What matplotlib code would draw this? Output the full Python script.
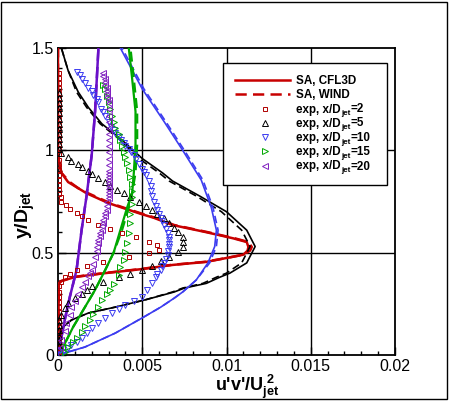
import numpy as np
import matplotlib
matplotlib.use("Agg")
import matplotlib.pyplot as plt
from matplotlib.patches import Rectangle

plt.rcParams['font.family'] = ['Liberation Sans', 'DejaVu Sans']
plt.rcParams['mathtext.fontset'] = 'custom'
plt.rcParams['mathtext.rm'] = 'Liberation Sans:bold'
plt.rcParams['mathtext.it'] = 'Liberation Sans:bold'
plt.rcParams['mathtext.bf'] = 'Liberation Sans:bold'

# ---------------- model curves (x = u'v'/Ujet^2, y = y/Djet) ----------------
red_cfl_y = [0.0, 0.35, 0.361, 0.381, 0.40, 0.42, 0.44, 0.455, 0.474, 0.49, 0.51, 0.528, 0.552, 0.57, 0.60, 0.635, 0.67, 0.69, 0.742, 0.79, 0.815, 0.845, 0.89, 0.95, 1.0, 1.5]
red_cfl_x = [0.0, 0.00005, 0.0002, 0.0010, 0.0028, 0.0050, 0.0068, 0.0088, 0.0100, 0.0110, 0.01125, 0.0113, 0.0112, 0.0104, 0.0088, 0.0068, 0.0057, 0.0049, 0.0030, 0.0017, 0.0012, 0.0006, 0.0002, 0.00005, 0.0, 0.0]
red_wind_y = [0.0, 0.35, 0.362, 0.382, 0.40, 0.42, 0.44, 0.455, 0.474, 0.49, 0.51, 0.528, 0.552, 0.57, 0.60, 0.635, 0.67, 0.69, 0.742, 0.79, 0.815, 0.845, 0.89, 0.95, 1.0, 1.5]
red_wind_x = [0.0, 0.00005, 0.0002, 0.0010, 0.0027, 0.0049, 0.0067, 0.0087, 0.0100, 0.0110, 0.0114, 0.0115, 0.0113, 0.0105, 0.0089, 0.0069, 0.0058, 0.0050, 0.0031, 0.0018, 0.0012, 0.0007, 0.0002, 0.00005, 0.0, 0.0]

blk_cfl_y = [0.0, 0.05, 0.10, 0.13, 0.171, 0.205, 0.234, 0.27, 0.308, 0.327, 0.35, 0.38, 0.40, 0.45, 0.53, 0.61, 0.70, 0.777, 0.85, 0.89, 0.96, 1.05, 1.13, 1.21, 1.285, 1.39, 1.5]
blk_cfl_x = [0.0, 0.00002, 0.0001, 0.0002, 0.0008, 0.0018, 0.0034, 0.0052, 0.0069, 0.0075, 0.0088, 0.0096, 0.0102, 0.0112, 0.0117, 0.0112, 0.0100, 0.0084, 0.0068, 0.0062, 0.0050, 0.0038, 0.0026, 0.0018, 0.0012, 0.0006, 0.0002]
blk_wind_y = [0.0, 0.05, 0.10, 0.13, 0.171, 0.205, 0.234, 0.27, 0.308, 0.327, 0.35, 0.38, 0.40, 0.45, 0.53, 0.61, 0.70, 0.777, 0.85, 0.89, 0.96, 1.05, 1.13, 1.21, 1.285, 1.39, 1.5]
blk_wind_x = [0.0, 0.00002, 0.0001, 0.0002, 0.0008, 0.0018, 0.0034, 0.0052, 0.0068, 0.0074, 0.0086, 0.0094, 0.0100, 0.0109, 0.0114, 0.0109, 0.0097, 0.0082, 0.0066, 0.0060, 0.0048, 0.0037, 0.0025, 0.0017, 0.0011, 0.0006, 0.0002]

blu_cfl_y = [0.0, 0.039, 0.107, 0.186, 0.234, 0.278, 0.308, 0.366, 0.45, 0.53, 0.61, 0.72, 0.81, 0.855, 1.0, 1.14, 1.30, 1.5]
blu_cfl_x = [0.0, 0.0016, 0.0034, 0.0051, 0.0061, 0.0069, 0.0074, 0.0082, 0.0089, 0.0093, 0.0094, 0.0091, 0.0087, 0.0085, 0.0074, 0.0063, 0.0050, 0.0037]
blu_wind_y = [0.0, 0.039, 0.107, 0.186, 0.234, 0.278, 0.308, 0.366, 0.45, 0.53, 0.61, 0.72, 0.81, 0.855, 1.0, 1.14, 1.30, 1.5]
blu_wind_x = [0.0, 0.0016, 0.0034, 0.0051, 0.0061, 0.0069, 0.0074, 0.0082, 0.0090, 0.0094, 0.0095, 0.0092, 0.0088, 0.0086, 0.0075, 0.0064, 0.0051, 0.0038]

grn_cfl_y = [0.0, 0.039, 0.137, 0.234, 0.318, 0.415, 0.50, 0.61, 0.72, 0.79, 0.89, 1.03, 1.19, 1.35, 1.5]
grn_cfl_x = [0.0, 0.0003, 0.0009, 0.0016, 0.0022, 0.0028, 0.0033, 0.0037, 0.0041, 0.0044, 0.0045, 0.0046, 0.0046, 0.0044, 0.0042]
grn_wind_y = [0.0, 0.039, 0.137, 0.234, 0.318, 0.415, 0.50, 0.61, 0.72, 0.79, 0.89, 1.03, 1.19, 1.35, 1.5]
grn_wind_x = [0.0, 0.0003, 0.0009, 0.0016, 0.0022, 0.0028, 0.0033, 0.0038, 0.0042, 0.0044, 0.0046, 0.0047, 0.0047, 0.0045, 0.0043]

pur_cfl_y = [0.0, 0.171, 0.283, 0.415, 0.61, 0.78, 0.977, 1.19, 1.5]
pur_cfl_x = [0.0, 0.0004, 0.0007, 0.0011, 0.0014, 0.0017, 0.0020, 0.0022, 0.0024]
pur_wind_y = [0.0, 0.171, 0.283, 0.415, 0.61, 0.78, 0.977, 1.19, 1.5]
pur_wind_x = [0.0, 0.0004, 0.0007, 0.0011, 0.0014, 0.0017, 0.0020, 0.0022, 0.0024]

# ---------------- experimental data ----------------
exp2_y = [1.38, 1.355, 1.33, 1.305, 1.28, 1.255, 1.23, 1.205, 1.18, 1.155, 1.13, 1.105, 1.08, 1.055, 1.03, 1.005, 0.98, 0.955, 0.93, 0.905, 0.88, 0.855, 0.83, 0.805, 0.785,
          0.77, 0.75, 0.733, 0.713, 0.694, 0.679, 0.66, 0.635, 0.615, 0.596, 0.576, 0.552, 0.537, 0.513, 0.498, 0.479, 0.455, 0.435, 0.415, 0.396, 0.381, 0.357,
          0.335, 0.31, 0.285, 0.26, 0.235, 0.21, 0.185, 0.16, 0.135, 0.11, 0.085, 0.06, 0.035, 0.015]
exp2_x = [0.00005] * 25 + \
         [0.0002, 0.0002, 0.0005, 0.0007, 0.0011, 0.0014, 0.0018, 0.0024, 0.0031, 0.0038, 0.0046, 0.0054, 0.0059, 0.0060, 0.0054, 0.0042, 0.0027, 0.0017, 0.0011, 0.0007, 0.0004, 0.0002] + \
         [0.00005] * 14

exp5_y = [1.28, 1.255, 1.23, 1.205, 1.18, 1.155, 1.13, 1.105, 1.08, 1.055, 1.03, 1.005,
          0.987, 0.965, 0.95, 0.935, 0.92, 0.90, 0.885, 0.865, 0.845, 0.826, 0.806, 0.79, 0.77, 0.75, 0.73, 0.71, 0.69, 0.67, 0.645, 0.62, 0.60, 0.575, 0.552, 0.528, 0.503, 0.48, 0.459, 0.435, 0.415, 0.396, 0.381, 0.357, 0.337, 0.318, 0.298, 0.278, 0.254, 0.23, 0.195,
          0.17, 0.145, 0.12, 0.095, 0.07, 0.045]
exp5_x = [0.00005] * 12 + \
         [0.0002, 0.0006, 0.0008, 0.0012, 0.0014, 0.0018, 0.0020, 0.0024, 0.0028, 0.0031, 0.0035, 0.0039, 0.0043, 0.0048, 0.0052, 0.0056, 0.0059, 0.0063, 0.0066, 0.0069, 0.0071, 0.0074, 0.0074, 0.0074, 0.0071, 0.0066, 0.0061, 0.0056, 0.0050, 0.0043, 0.0036, 0.0027, 0.0020, 0.0017, 0.0014, 0.0010, 0.0006, 0.0004, 0.0002] + \
         [0.00005] * 6

exp10_x = [0.0011, 0.0013, 0.0014, 0.0016, 0.0018, 0.0020, 0.0021, 0.0023, 0.0024, 0.00255, 0.0027, 0.0028, 0.0030, 0.00315, 0.0033, 0.0034, 0.0036, 0.00374, 0.0039, 0.0040, 0.0042, 0.00433, 0.0045, 0.0046, 0.0048, 0.0050, 0.0051, 0.0052, 0.0054, 0.0055, 0.0055, 0.0056, 0.0057, 0.0058, 0.0059, 0.0060, 0.0061, 0.0062, 0.0063, 0.0064, 0.0065, 0.0066, 0.0066, 0.0066, 0.0066, 0.0065, 0.0065, 0.0064, 0.0063, 0.0062, 0.0061, 0.0059, 0.0058, 0.0056, 0.0053, 0.0050, 0.0045, 0.0040, 0.0036, 0.0032, 0.0028, 0.0024, 0.0020, 0.0017, 0.0014, 0.0011, 0.0008, 0.0006, 0.0003, 0.0001]
exp10_y = [1.381, 1.37, 1.35, 1.33, 1.306, 1.29, 1.27, 1.25, 1.235, 1.20, 1.185, 1.17, 1.14, 1.115, 1.10, 1.085, 1.065, 1.05, 1.035, 1.02, 1.005, 0.99, 0.975, 0.96, 0.935, 0.91, 0.895, 0.88, 0.85, 0.825, 0.80, 0.775, 0.75, 0.73, 0.71, 0.69, 0.67, 0.655, 0.635, 0.615, 0.596, 0.578, 0.56, 0.544, 0.528, 0.51, 0.49, 0.47, 0.45, 0.433, 0.415, 0.398, 0.38, 0.35, 0.318, 0.283, 0.265, 0.244, 0.225, 0.205, 0.18, 0.156, 0.13, 0.107, 0.085, 0.065, 0.05, 0.034, 0.017, 0.0]

exp15_x = [0.0027, 0.0028, 0.0029, 0.0030, 0.0031, 0.0032, 0.0033, 0.0034, 0.0036, 0.0037, 0.0038, 0.0039, 0.0040, 0.0041, 0.0042, 0.0043, 0.0044, 0.0044, 0.0044, 0.0044, 0.0043, 0.0043, 0.0042, 0.0041, 0.0040, 0.0039, 0.0037, 0.0036, 0.0033, 0.0031, 0.0029, 0.0026, 0.0024, 0.0021, 0.0019, 0.0016, 0.0014, 0.0011, 0.0009, 0.0006, 0.0004]
exp15_y = [1.32, 1.30, 1.265, 1.235, 1.20, 1.17, 1.14, 1.11, 1.08, 1.05, 1.02, 0.99, 0.965, 0.94, 0.905, 0.87, 0.835, 0.80, 0.77, 0.74, 0.69, 0.645, 0.595, 0.547, 0.505, 0.464, 0.43, 0.39, 0.345, 0.32, 0.30, 0.27, 0.234, 0.20, 0.171, 0.14, 0.112, 0.085, 0.063, 0.04, 0.015]

exp20_x = [0.0027, 0.0027, 0.0028, 0.0028, 0.0028, 0.0029, 0.0029, 0.0029, 0.0029, 0.0030, 0.0030, 0.0030, 0.0030, 0.0030, 0.0030, 0.0030, 0.0030, 0.0030, 0.0030, 0.0030, 0.0030, 0.0030, 0.0030, 0.0030, 0.0030, 0.0030, 0.0030, 0.0030, 0.0030, 0.0030, 0.0030, 0.0029, 0.0029, 0.0029, 0.0028, 0.0028, 0.0027, 0.0027, 0.0026, 0.0026, 0.0025, 0.0025, 0.0024, 0.0024, 0.0023, 0.0023, 0.0022, 0.0021, 0.0020, 0.0019, 0.0018, 0.0016, 0.0014, 0.0012, 0.0010, 0.0008, 0.0007, 0.0005, 0.0004, 0.0002, 0.0001]
exp20_y = [1.38, 1.365, 1.35, 1.335, 1.32, 1.305, 1.29, 1.275, 1.26, 1.245, 1.23, 1.20, 1.17, 1.14, 1.11, 1.08, 1.05, 1.02, 0.99, 0.96, 0.93, 0.90, 0.885, 0.87, 0.855, 0.84, 0.825, 0.81, 0.795, 0.78, 0.765, 0.75, 0.73, 0.71, 0.695, 0.68, 0.66, 0.645, 0.63, 0.61, 0.595, 0.58, 0.56, 0.545, 0.53, 0.51, 0.48, 0.445, 0.415, 0.40, 0.385, 0.355, 0.33, 0.30, 0.265, 0.234, 0.195, 0.156, 0.115, 0.073, 0.035]

x_ticks = [0, 0.005, 0.01, 0.015, 0.02]
x_tick_labels = ['0', '0.005', '0.01', '0.015', '0.02']
y_ticks = [0, 0.5, 1, 1.5]
y_tick_labels = ['0', '0.5', '1', '1.5']

model_labels = ['SA, CFL3D', 'SA, WIND']
exp_stations = ['2', '5', '10', '15', '20']

RED = '#c80000'
BLK = '#000000'
BLU = '#3c3cf0'
GRN = '#00a800'
PUR = '#6a10c8'
PUR_M = '#8020c0'
RED_M = '#b00000'

fig = plt.figure(figsize=(4.5, 4.01), dpi=100)
ax = fig.add_axes([58/450, 1-355/401, 337/450, 307/401])

ax.set_xlim(0, 0.02)
ax.set_ylim(0, 1.5)

for xv in x_ticks[1:-1]:
    ax.axvline(xv, color='black', lw=1.0, zorder=1)
for yv in y_ticks[1:-1]:
    ax.axhline(yv, color='black', lw=1.0, zorder=1)

dash = (0, (4.5, 2.5))
models = [
    (red_cfl_x, red_cfl_y, red_wind_x, red_wind_y, RED, 1.8),
    (blk_cfl_x, blk_cfl_y, blk_wind_x, blk_wind_y, BLK, 1.2),
    (blu_cfl_x, blu_cfl_y, blu_wind_x, blu_wind_y, BLU, 1.2),
    (grn_cfl_x, grn_cfl_y, grn_wind_x, grn_wind_y, GRN, 1.6),
    (pur_cfl_x, pur_cfl_y, pur_wind_x, pur_wind_y, PUR, 1.8),
]
for cx, cy, wx, wy, col, lw in models:
    ax.plot(cx, cy, color=col, lw=lw, zorder=3)
    ax.plot(wx, wy, color=col, lw=lw, ls=dash, zorder=3)

SQ_MS = 3.0
TR_MS = 3.7
mk_kw = dict(ls='none', mfc='none', mew=0.7, zorder=4)
exp_sets = [
    (exp2_x, exp2_y, 's', SQ_MS, RED_M),
    (exp5_x, exp5_y, '^', TR_MS, 'black'),
    (exp10_x, exp10_y, 'v', TR_MS, BLU),
    (exp15_x, exp15_y, '>', TR_MS, GRN),
    (exp20_x, exp20_y, '<', TR_MS, PUR_M),
]
for ex, ey, mk, ms, col in exp_sets:
    ax.plot(ex, ey, marker=mk, ms=ms, mec=col, **mk_kw)

ax.set_xticks(x_ticks)
ax.set_xticklabels(x_tick_labels)
ax.set_yticks(y_ticks)
ax.set_yticklabels(y_tick_labels)
ax.set_xticks(np.arange(0, 0.0201, 0.001), minor=True)
ax.set_yticks(np.arange(0, 1.501, 0.1), minor=True)
ax.tick_params(which='both', direction='in', top=False, right=False, width=1.0)
ax.tick_params(which='major', length=6, labelsize=11.5, pad=3)
ax.tick_params(which='minor', length=3)
for s in ax.spines.values():
    s.set_linewidth(1.3)

fig.text(247/450, 1-387/401, r"u'v'/U$_{\mathrm{jet}}^{\ 2}$", fontsize=13, fontweight='bold',
         ha='center', va='center')
fig.text(25/450, 1-215/401, r"y/D$_{\mathrm{jet}}$", fontsize=14, fontweight='bold',
         rotation=90, ha='center', va='center')

# ---- legend box drawn in a pixel-coordinate overlay ----
lax = fig.add_axes([0, 0, 1, 1], zorder=10)
lax.set_xlim(0, 450)
lax.set_ylim(401, 0)
lax.axis('off')
lax.add_patch(Rectangle((223, 63), 164, 122, fc='white', ec='black', lw=1.0))
rows = [80, 94, 108.5, 122.5, 137, 151, 165.5]
lax.plot([235, 290], [rows[0]] * 2, color=RED, lw=1.8)
lax.plot([235, 290], [rows[1]] * 2, color=RED, lw=1.8, ls=dash)
for (ex, ey, mk, ms, col), r in zip(exp_sets, rows[2:]):
    lax.plot([265], [r], marker=mk, ms=ms, mec=col, mfc='none', mew=0.7, ls='none')

renderer = fig.canvas.get_renderer()
LFS = 8.4
for lab, r in zip(model_labels, rows[:2]):
    lax.text(296, r + 4.0, lab, fontsize=LFS, fontweight='bold', ha='left', va='baseline')
for st, r in zip(exp_stations, rows[2:]):
    base = r + 4.0
    t1 = lax.text(296, base, 'exp, x/D', fontsize=LFS, fontweight='bold', ha='left', va='baseline')
    x1 = t1.get_window_extent(renderer).x1
    t2 = lax.text(x1 + 0.3, base + 2.8, 'jet', fontsize=5.8, fontweight='bold', ha='left', va='baseline')
    x2 = t2.get_window_extent(renderer).x1
    lax.text(x2 + 0.3, base, '=' + st, fontsize=LFS, fontweight='bold', ha='left', va='baseline')

fig.patches.append(Rectangle((1/450, 2/401), 446/450, 397/401, transform=fig.transFigure,
                             fill=False, ec='black', lw=1.0))

fig.savefig('out.png', dpi=100)
